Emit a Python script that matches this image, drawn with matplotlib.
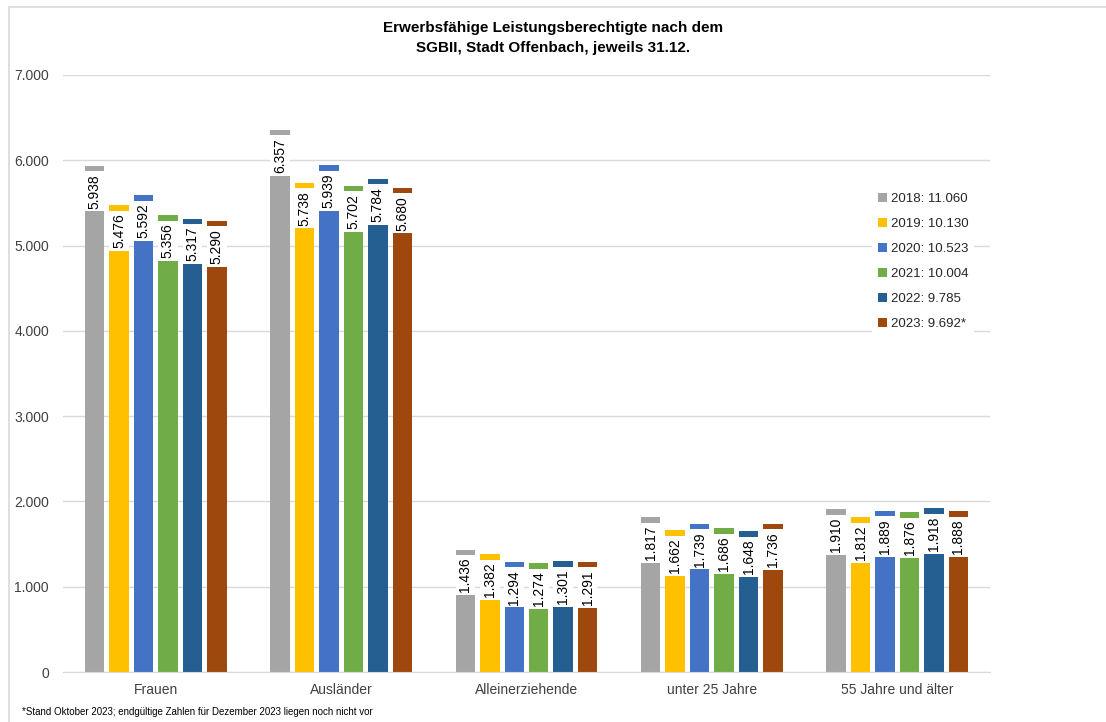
import numpy as np
import matplotlib.pyplot as plt
from matplotlib.patches import Rectangle

plt.rcParams['font.family'] = ['Liberation Sans', 'DejaVu Sans']

categories = ['Frauen', 'Ausländer', 'Alleinerziehende', 'unter 25 Jahre', '55 Jahre und älter']
years = ['2018', '2019', '2020', '2021', '2022', '2023']
totals = ['11.060', '10.130', '10.523', '10.004', '9.785', '9.692*']
values = {
    '2018': [5938, 6357, 1436, 1817, 1910],
    '2019': [5476, 5738, 1382, 1662, 1812],
    '2020': [5592, 5939, 1294, 1739, 1889],
    '2021': [5356, 5702, 1274, 1686, 1876],
    '2022': [5317, 5784, 1301, 1648, 1918],
    '2023': [5290, 5680, 1291, 1736, 1888],
}
colors = ['#A5A5A5', '#FFC000', '#4472C4', '#70AD47', '#255E91', '#9E480E']


def fmt(v):
    return f'{v:,}'.replace(',', '.')


fig = plt.figure(figsize=(11.06, 7.22), dpi=100)
ax = fig.add_axes([63 / 1106, 50 / 722, 927 / 1106, 597 / 722])

x = np.arange(len(categories))
step = 0.132
width = 0.105
for i, (year, col) in enumerate(zip(years, colors)):
    pos = x + (i - 2.5) * step
    ax.bar(pos, values[year], width, color=col, zorder=2,
           label=f'{year}: {totals[i]}')
    for xp, v in zip(pos, values[year]):
        ax.annotate(fmt(v), (xp, v), xytext=(0, -6), textcoords='offset points',
                    rotation=90, ha='center', va='top', fontsize=10, color='black',
                    bbox=dict(boxstyle='square,pad=0.2', fc='white', ec='none'),
                    zorder=3)

ax.set_xlim(-0.5, 4.5)
ax.set_ylim(0, 7000)
ax.set_yticks(range(0, 7001, 1000))
ax.set_yticklabels([fmt(v) for v in range(0, 7001, 1000)])
ax.set_xticks(x)
ax.set_xticklabels(categories)
ax.tick_params(axis='both', length=0, labelsize=10, labelcolor='#404040')
ax.tick_params(axis='y', pad=10)
ax.tick_params(axis='x', pad=8)
ax.grid(axis='y', color='#D9D9D9', linewidth=1, zorder=0)
for s in ['top', 'right', 'left']:
    ax.spines[s].set_visible(False)
ax.spines['bottom'].set_color('#D9D9D9')

leg = ax.legend(loc='upper left', bbox_to_anchor=(0.866, 0.823), frameon=True,
                fontsize=9.5, handlelength=0.7, handleheight=0.7, handletextpad=0.3,
                labelspacing=0.97, borderpad=0.4, fancybox=False)
leg.get_frame().set_edgecolor('none')
leg.get_frame().set_facecolor('white')
leg.get_frame().set_alpha(1)
for t in leg.get_texts():
    t.set_color('#262626')

fig.text(0.5, 1 - 38 / 722, 'Erwerbsfähige Leistungsberechtigte nach dem\nSGBII, Stadt Offenbach, jeweils 31.12.',
         ha='center', va='center', fontsize=11, fontweight='bold', linespacing=1.5)
fig.text(22 / 1106, 1 - 712 / 722,
         '*Stand Oktober 2023; endgültige Zahlen für Dezember 2023 liegen noch nicht vor',
         ha='left', va='center', fontsize=7)

fig.patches.append(Rectangle((9 / 1106, -0.1), 1.2, 1 - 7 / 722 + 0.1,
                             transform=fig.transFigure, fill=False,
                             edgecolor='#D9D9D9', linewidth=1.2))

fig.savefig('out.png', dpi=100)
